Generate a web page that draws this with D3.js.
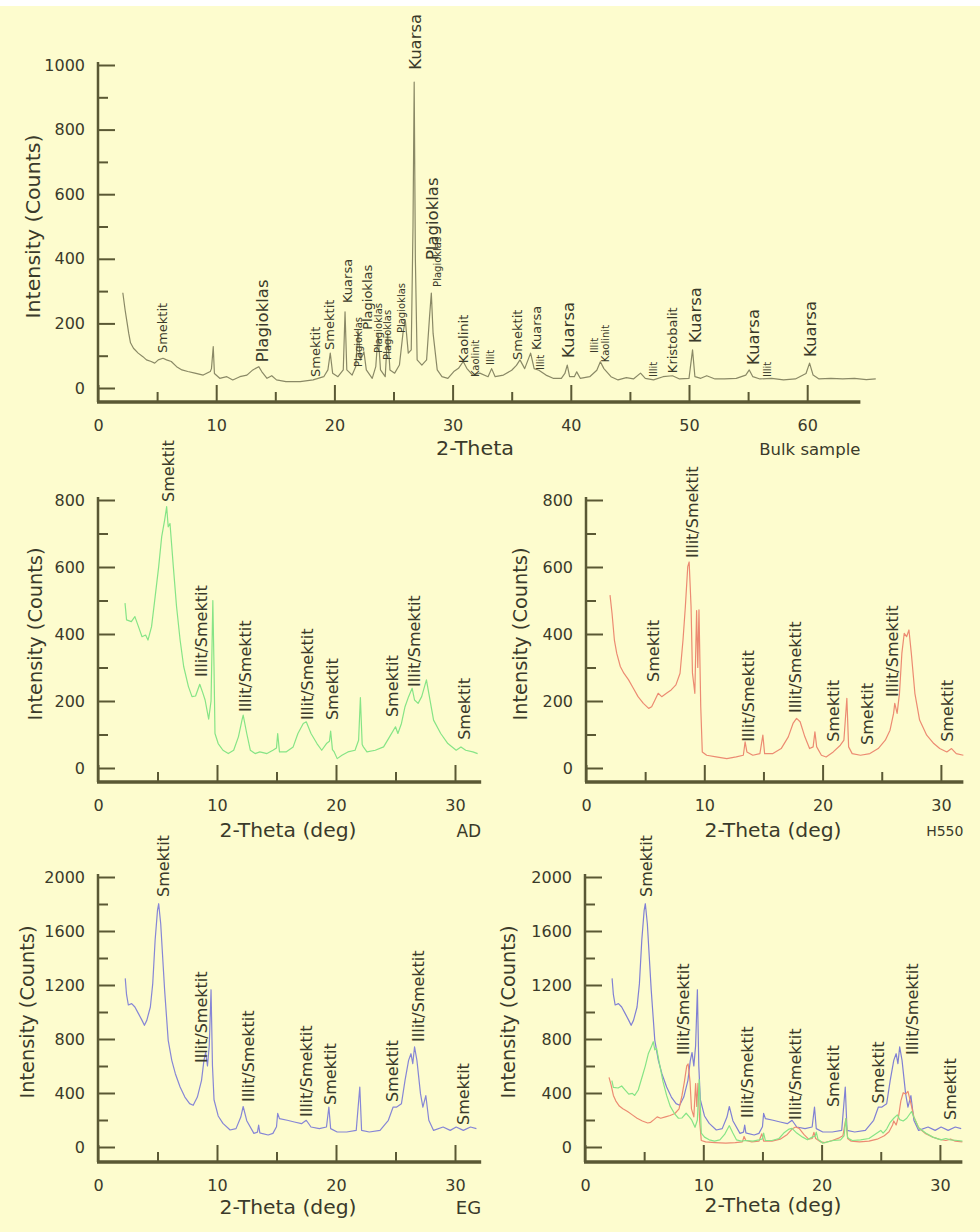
<!DOCTYPE html>
<html>
<head>
<meta charset="utf-8">
<script src="https://cdn.jsdelivr.net/npm/d3@7"></script>
<style>
  html, body { margin: 0; padding: 0; background: #fdfcce; }
  svg { display: block; }
  text { font-family: "DejaVu Sans", "Liberation Sans", sans-serif; fill: #3a3a2a; }
</style>
</head>
<body>
<svg id="chart" width="980" height="1232"></svg>
<script>
// ---- Diffraction patterns: [2-theta (deg), intensity (counts)] ----
const bulkSample = [
  [2.1,295],[2.3,240],[2.45,205],[2.6,169],[2.75,140],[3.0,123],[3.4,108],[3.8,97],[4.1,87],[4.5,82],
  [4.8,77],[5.1,87],[5.5,92],[5.8,87],[6.2,82],[6.65,66],[7.1,56],[7.6,51],[8.2,46],[8.9,40],
  [9.5,51],[9.6,60],[9.75,128],[9.85,45],[10.3,30],[10.9,35],[11.4,25],[12.0,35],[12.6,40],[13.1,56],
  [13.6,66],[13.85,51],[14.3,30],[14.7,38],[15.1,25],[15.9,20],[17.1,20],[18.2,25],[19.1,35],[19.45,56],
  [19.65,108],[19.85,46],[20.3,35],[20.75,56],[20.9,236],[21.05,56],[21.5,40],[21.8,66],[22.0,180],[22.2,87],
  [22.5,112],[22.7,56],[23.2,30],[23.5,66],[23.7,169],[23.9,56],[24.3,35],[24.5,169],[24.7,56],[25.1,46],
  [25.5,71],[25.8,169],[26.0,210],[26.25,108],[26.5,118],[26.65,500],[26.75,947],[26.85,400],[27.0,87],[27.4,71],
  [27.8,87],[28.05,221],[28.2,294],[28.35,169],[28.7,56],[29.1,35],[29.6,30],[30.1,51],[30.5,61],[30.9,82],
  [31.2,61],[31.7,40],[32.3,46],[33.0,35],[33.3,60],[33.6,35],[34.3,40],[35.0,55],[35.4,70],[35.7,87],
  [36.1,60],[36.6,108],[36.9,60],[37.3,55],[37.9,40],[38.5,30],[39.2,30],[39.5,45],[39.7,71],[39.9,35],
  [40.3,35],[40.5,50],[40.8,30],[41.6,35],[42.2,55],[42.5,81],[42.8,60],[43.4,35],[44.0,25],[44.7,32],
  [45.3,28],[45.9,46],[46.3,30],[47.0,25],[47.8,35],[48.6,38],[49.2,28],[50.0,30],[50.3,118],[50.5,35],
  [51.0,30],[51.5,38],[52.2,28],[53.0,28],[54.0,30],[54.8,40],[55.1,56],[55.4,35],[56.0,28],[57.0,30],
  [58.0,25],[59.0,28],[59.9,45],[60.2,77],[60.5,40],[61.0,28],[62.0,30],[63.0,28],[64.0,30],[65.0,26],[65.8,28]
];

const airDried = [
  [2.27,492],[2.4,442],[2.8,437],[3.1,452],[3.4,422],[3.7,392],[4.0,397],[4.2,382],[4.5,422],[4.8,511],
  [5.1,601],[5.35,690],[5.6,740],[5.77,780],[5.9,720],[6.05,730],[6.33,601],[6.6,482],[6.9,382],[7.2,303],
  [7.6,243],[7.9,213],[8.2,215],[8.55,250],[8.8,225],[9.0,203],[9.3,146],[9.5,200],[9.65,500],[9.75,300],
  [9.83,103],[10.1,73],[10.5,53],[10.95,43],[11.4,53],[11.8,93],[12.1,143],[12.2,158],[12.5,103],[12.8,53],
  [13.2,43],[13.6,48],[14.2,43],[14.7,53],[15.0,60],[15.1,103],[15.25,48],[15.8,48],[16.4,63],[16.8,103],
  [17.25,133],[17.5,138],[17.9,103],[18.4,73],[18.8,53],[19.2,73],[19.45,80],[19.55,110],[19.7,55],[19.85,48],
  [20.1,28],[20.5,38],[21.0,48],[21.6,53],[21.9,83],[22.05,210],[22.2,70],[22.3,63],[22.6,48],[23.3,53],
  [24.0,63],[24.5,93],[25.0,123],[25.2,103],[25.5,133],[25.8,183],[26.1,213],[26.4,238],[26.6,203],[26.9,193],
  [27.2,213],[27.6,263],[27.8,223],[28.2,143],[28.8,103],[29.4,73],[30.1,53],[30.5,63],[30.9,53],[31.5,48],[31.9,43]
];

const heated550 = [
  [2.03,516],[2.2,462],[2.4,382],[2.6,342],[2.9,303],[3.2,283],[3.6,263],[4.0,238],[4.4,213],[4.85,193],
  [5.3,178],[5.55,183],[5.83,203],[6.1,223],[6.4,213],[6.8,223],[7.2,233],[7.6,248],[7.95,283],[8.2,382],
  [8.4,482],[8.6,601],[8.72,615],[8.88,482],[9.0,283],[9.2,223],[9.35,470],[9.45,300],[9.55,472],[9.7,183],
  [9.83,48],[10.2,38],[11.0,33],[11.9,28],[12.7,33],[13.3,38],[13.45,78],[13.6,48],[14.1,38],[14.7,43],
  [14.95,98],[15.1,43],[15.8,43],[16.5,58],[17.1,93],[17.5,133],[17.8,148],[18.1,138],[18.5,93],[18.9,58],
  [19.2,63],[19.35,108],[19.5,63],[19.9,38],[20.3,33],[20.9,48],[21.5,68],[21.8,83],[22.05,208],[22.2,63],
  [22.5,43],[23.2,38],[24.0,43],[24.7,58],[25.3,83],[25.7,113],[26.0,163],[26.1,193],[26.3,163],[26.5,223],
  [26.7,342],[26.9,402],[27.1,392],[27.3,412],[27.5,342],[27.8,223],[28.2,143],[28.8,98],[29.4,73],[29.9,58],
  [30.5,48],[30.9,58],[31.3,43],[31.9,38]
];

const glycolated = [
  [2.29,1249],[2.4,1128],[2.55,1052],[2.83,1062],[3.1,1037],[3.4,988],[3.7,938],[3.9,901],[4.1,938],[4.4,1037],
  [4.6,1210],[4.8,1531],[5.0,1753],[5.1,1802],[5.27,1654],[5.4,1457],[5.6,1160],[5.9,790],[6.2,642],[6.5,543],
  [6.9,444],[7.3,370],[7.7,321],[8.0,309],[8.35,370],[8.7,494],[8.9,640],[9.05,700],[9.2,600],[9.35,750],
  [9.5,1165],[9.62,600],[9.75,350],[10.1,230],[10.5,175],[11.1,126],[11.6,136],[12.0,222],[12.2,300],[12.5,195],
  [13.1,101],[13.4,110],[13.5,163],[13.6,105],[13.75,101],[14.3,89],[14.7,101],[15.0,150],[15.1,249],[15.25,210],
  [15.9,198],[16.5,185],[17.1,173],[17.5,198],[17.9,148],[18.6,136],[19.2,148],[19.4,296],[19.55,136],[20.1,111],
  [20.9,111],[21.7,123],[22.0,444],[22.15,123],[22.8,111],[23.7,123],[24.4,198],[24.8,296],[25.1,296],[25.5,321],
  [25.8,494],[26.1,642],[26.3,691],[26.45,617],[26.6,741],[26.8,642],[27.1,395],[27.3,296],[27.55,380],[27.8,198],
  [28.2,123],[29.0,148],[29.6,123],[30.1,148],[30.7,123],[31.3,148],[31.8,136]
];

// ---- Peak annotations: [2-theta, intensity at label foot, mineral] ----
const bulkPeaksLarge = [
  [13.9,80,"Plagioklas"],[26.8,985,"Kuarsa"],[28.3,396,"Plagioklas"],[39.8,93,"Kuarsa"],
  [50.5,139,"Kuarsa"],[55.4,71,"Kuarsa"],[60.2,96,"Kuarsa"]
];
const bulkPeaksMedium = [
  [5.4,108,"Smektit"],[18.4,34,"Smektit"],[19.6,118,"Smektit"],[21.1,263,"Kuarsa"],
  [22.8,180,"Plagioklas"],[30.9,77,"Kaolinit"],[35.5,87,"Smektit"],[37.1,118,"Kuarsa"],[48.6,46,"Kristobalit"]
];
const bulkPeaksSmall = [
  [22.0,65,"Plagioklas"],[23.7,108,"Plagioklas"],[24.5,87,"Plagioklas"],[25.7,170,"Plagioklas"],
  [28.7,313,"Plagioklas"],[31.9,34,"Kaolinit"],[33.2,71,"Illit"],[37.4,56,"Illit"],[42.0,108,"Illit"],
  [42.9,80,"Kaolinit"],[47.0,34,"Illit"],[56.6,34,"Illit"]
];
const adPeaks = [
  [5.9,794,"Smektit"],[8.7,272,"Illit/Smektit"],[12.35,167,"Illit/Smektit"],[17.6,143,"Illit/Smektit"],
  [19.7,143,"Smektit"],[24.7,152,"Smektit"],[26.6,242,"Illit/Smektit"],[30.8,84,"Smektit"]
];
const h550Peaks = [
  [5.7,257,"Smektit"],[8.95,627,"Illit/Smektit"],[13.7,78,"Illit/Smektit"],[17.7,164,"Illit/Smektit"],
  [20.9,78,"Smektit"],[23.8,69,"Smektit"],[25.9,212,"Illit/Smektit"],[30.5,78,"Smektit"]
];
const egPeaks = [
  [5.5,1852,"Smektit"],[8.7,622,"Illit/Smektit"],[12.6,333,"Illit/Smektit"],[17.5,222,"Illit/Smektit"],
  [19.5,311,"Smektit"],[24.7,333,"Smektit"],[26.9,778,"Illit/Smektit"],[30.7,163,"Smektit"]
];
const overlayPeaks = [
  [5.2,1852,"Smektit"],[8.3,681,"Illit/Smektit"],[13.7,215,"Illit/Smektit"],[17.75,200,"Illit/Smektit"],
  [21.0,296,"Smektit"],[24.8,323,"Smektit"],[27.7,681,"Illit/Smektit"],[30.9,200,"Smektit"]
];

// ---- Axis tick settings ----
const bulkYTicks = [0, 200, 400, 600, 800, 1000];
const clayYTicks = [0, 200, 400, 600, 800];
const egYTicks = [0, 400, 800, 1200, 1600, 2000];

// ---- Drawing ----
const svg = d3.select("#chart");
svg.append("rect").attr("width", 980).attr("height", 1232).attr("fill", "#fdfcce");
svg.append("rect").attr("width", 980).attr("height", 6).attr("fill", "#ffffff");

const AXIS = "#5a5834";

function panel(cfg) {
  const g = svg.append("g");
  const x = d3.scaleLinear().domain([0, cfg.xMax]).range([cfg.x0, cfg.x0 + cfg.xMax * cfg.k]);
  const y = d3.scaleLinear().domain([0, cfg.yMax]).range([cfg.y0, cfg.yTop]);

  const yMajor = cfg.yTicks;
  const yStep = yMajor[1] - yMajor[0];
  const yMinor = d3.range(yStep / 2, cfg.yMax, yStep);
  const xMajor = d3.range(0, cfg.xMax + 0.001, 10);
  const xMinor = d3.range(5, cfg.xMax, 10);

  // y minor ticks
  g.append("g").attr("transform", `translate(${cfg.x0},0)`)
    .call(d3.axisLeft(y).tickValues(yMinor).tickSize(-10).tickFormat(""))
    .call(a => a.select(".domain").remove())
    .call(a => a.selectAll("line").attr("stroke", AXIS).attr("stroke-width", 2));
  // y major ticks with labels
  g.append("g").attr("transform", `translate(${cfg.x0},0)`)
    .call(d3.axisLeft(y).tickValues(yMajor).tickSize(-17).tickPadding(13).tickFormat(d3.format("d")))
    .call(a => a.select(".domain").remove())
    .call(a => a.selectAll("line").attr("stroke", AXIS).attr("stroke-width", 2))
    .call(a => a.selectAll("text").attr("font-size", 16).attr("fill", "#3a3a2a")
      .style("font-family", '"DejaVu Sans", sans-serif'));

  // x minor ticks
  g.append("g").attr("transform", `translate(0,${cfg.axisY})`)
    .call(d3.axisBottom(x).tickValues(xMinor).tickSize(-10).tickFormat(""))
    .call(a => a.select(".domain").remove())
    .call(a => a.selectAll("line").attr("stroke", AXIS).attr("stroke-width", 2));
  // x major ticks with labels
  g.append("g").attr("transform", `translate(0,${cfg.axisY})`)
    .call(d3.axisBottom(x).tickValues(xMajor).tickSize(-17).tickPadding(17.5).tickFormat(d3.format("d")))
    .call(a => a.select(".domain").remove())
    .call(a => a.selectAll("line").attr("stroke", AXIS).attr("stroke-width", 2))
    .call(a => a.selectAll("text").attr("font-size", 16).attr("fill", "#3a3a2a")
      .style("font-family", '"DejaVu Sans", sans-serif'));

  // axis lines
  g.append("line").attr("x1", cfg.x0).attr("x2", cfg.x0)
    .attr("y1", y(cfg.yMax) - 3).attr("y2", cfg.axisY)
    .attr("stroke", AXIS).attr("stroke-width", 2.5);
  g.append("line").attr("x1", cfg.x0 - 1).attr("x2", x(cfg.xMax))
    .attr("y1", cfg.axisY).attr("y2", cfg.axisY)
    .attr("stroke", AXIS).attr("stroke-width", 3.5);

  // traces
  const line = d3.line().x(d => x(d[0])).y(d => y(d[1]));
  cfg.series.forEach(s => {
    g.append("path").datum(s.data).attr("d", line)
      .attr("fill", "none").attr("stroke", s.color).attr("stroke-width", s.width || 1.2)
      .attr("stroke-linejoin", "round");
  });

  // peak labels (rotated, reading upward from the label foot)
  cfg.labels.forEach(set => {
    g.append("g").selectAll("text").data(set.data).join("text")
      .attr("transform", d => `translate(${x(d[0])},${y(d[1])}) rotate(-90)`)
      .attr("dy", "0.36em")
      .attr("font-size", set.size)
      .text(d => d[2]);
  });

  // axis titles
  g.append("text")
    .attr("transform", `translate(${cfg.x0 - cfg.yTitleOff},${(cfg.y0 + cfg.yTop) / 2}) rotate(-90)`)
    .attr("text-anchor", "middle").attr("dy", "0.36em")
    .attr("font-size", 19).attr("textLength", cfg.yTitleLen).attr("lengthAdjust", "spacingAndGlyphs")
    .text("Intensity (Counts)");
  g.append("text")
    .attr("x", cfg.xTitleX).attr("y", cfg.xTitleY)
    .attr("text-anchor", "middle").attr("dy", "0.36em")
    .attr("font-size", 19).attr("textLength", cfg.xTitleLen).attr("lengthAdjust", "spacingAndGlyphs")
    .text(cfg.xTitle);
  if (cfg.tag) {
    g.append("text")
      .attr("x", x(cfg.xMax)).attr("y", cfg.xTitleY + 1)
      .attr("text-anchor", "end").attr("dy", "0.36em")
      .attr("font-size", cfg.tagSize)
      .text(cfg.tag);
  }
}

// Bulk sample
panel({
  x0: 98, k: 11.82, xMax: 64.5, yMax: 1000, y0: 388, yTop: 65, axisY: 402,
  yTicks: bulkYTicks,
  series: [{ data: bulkSample, color: "#8a8966", width: 1.2 }],
  labels: [
    { data: bulkPeaksLarge, size: 16.5 },
    { data: bulkPeaksMedium, size: 13 },
    { data: bulkPeaksSmall, size: 10 }
  ],
  yTitleOff: 65, yTitleLen: 184,
  xTitle: "2-Theta", xTitleX: 475, xTitleY: 448, xTitleLen: 78,
  tag: "Bulk sample", tagSize: 16.5
});

// Air dried
panel({
  x0: 98, k: 11.9, xMax: 32.2, yMax: 800, y0: 768, yTop: 500, axisY: 782,
  yTicks: clayYTicks,
  series: [{ data: airDried, color: "#86e486" }],
  labels: [{ data: adPeaks, size: 16 }],
  yTitleOff: 63, yTitleLen: 173,
  xTitle: "2-Theta (deg)", xTitleX: 288, xTitleY: 830, xTitleLen: 137,
  tag: "AD", tagSize: 17
});

// Heated 550 °C
panel({
  x0: 586, k: 11.83, xMax: 31.9, yMax: 800, y0: 768, yTop: 500, axisY: 782,
  yTicks: clayYTicks,
  series: [{ data: heated550, color: "#ec8b72" }],
  labels: [{ data: h550Peaks, size: 16 }],
  yTitleOff: 66, yTitleLen: 173,
  xTitle: "2-Theta (deg)", xTitleX: 773, xTitleY: 830, xTitleLen: 137,
  tag: "H550", tagSize: 14
});

// Ethylene glycol
panel({
  x0: 98, k: 11.9, xMax: 32.2, yMax: 2000, y0: 1147, yTop: 877, axisY: 1162,
  yTicks: egYTicks,
  series: [{ data: glycolated, color: "#8686d6" }],
  labels: [{ data: egPeaks, size: 16 }],
  yTitleOff: 71, yTitleLen: 173,
  xTitle: "2-Theta (deg)", xTitleX: 288, xTitleY: 1207, xTitleLen: 137,
  tag: "EG", tagSize: 18
});

// Overlay of the three treatments
panel({
  x0: 585, k: 11.83, xMax: 31.9, yMax: 2000, y0: 1147, yTop: 877, axisY: 1162,
  yTicks: egYTicks,
  series: [
    { data: glycolated, color: "#8080d4" },
    { data: heated550, color: "#ec8b72" },
    { data: airDried, color: "#86e486" }
  ],
  labels: [{ data: overlayPeaks, size: 16 }],
  yTitleOff: 77, yTitleLen: 173,
  xTitle: "2-Theta (deg)", xTitleX: 773, xTitleY: 1205, xTitleLen: 137,
  tag: null
});
</script>
</body>
</html>
